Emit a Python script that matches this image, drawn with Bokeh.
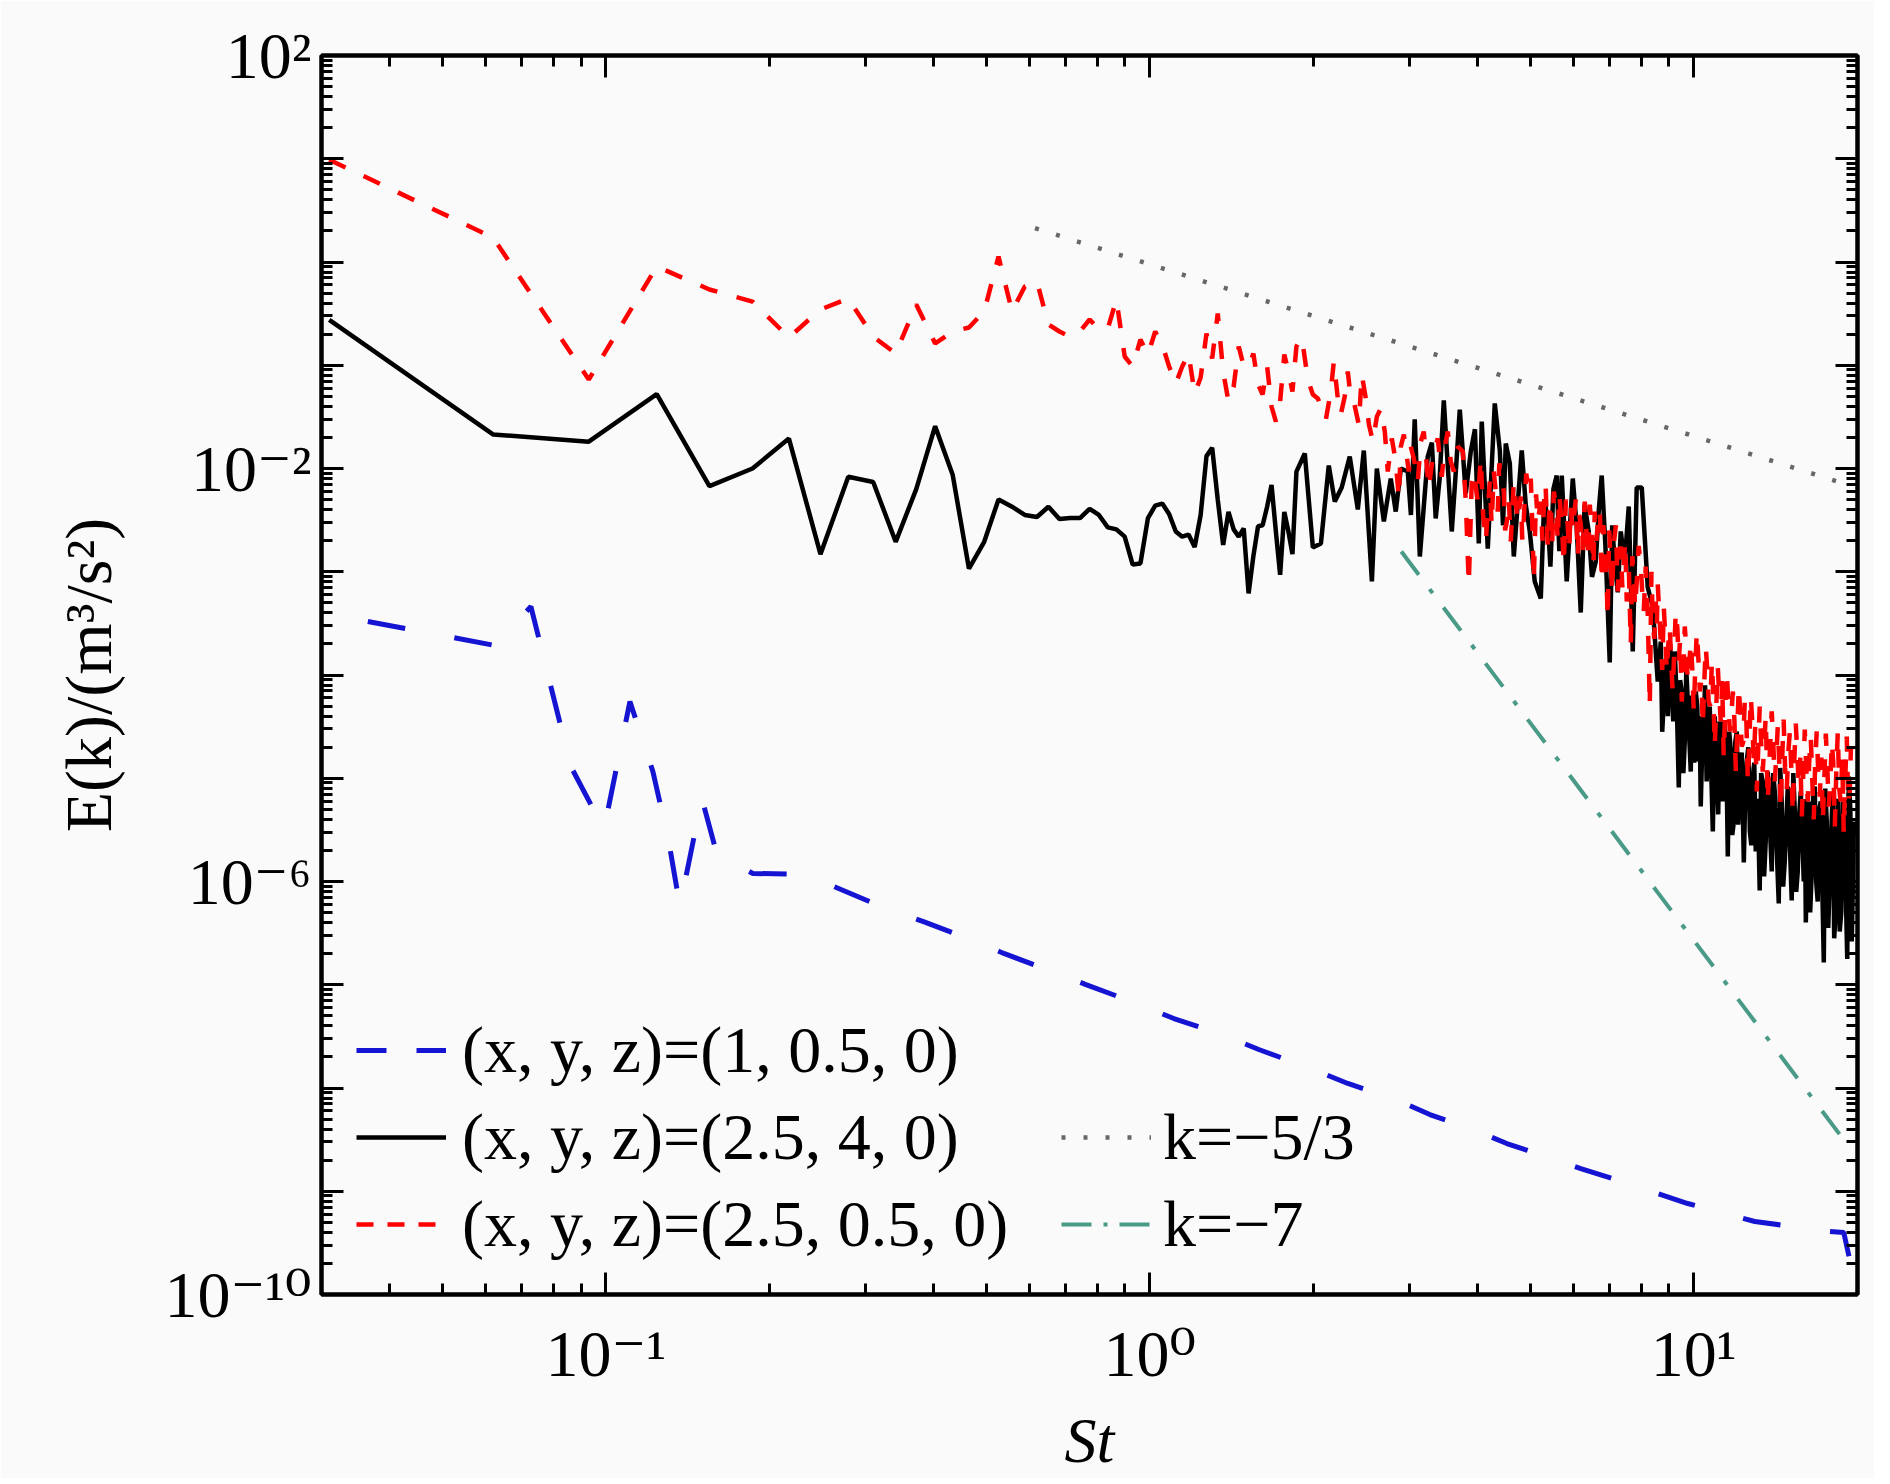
from bokeh.plotting import figure
from bokeh.models import LogAxis, FixedTicker, CustomJSTickFormatter, Legend, LegendItem
from bokeh.embed import file_html
from bokeh.resources import INLINE

# ---------------- data ----------------
# FFT bin frequencies (St) of the low-frequency part, shared by black and red
st_bins = [0.031, 0.062, 0.093, 0.124, 0.155, 0.186, 0.217, 0.248, 0.279, 0.31,
           0.341, 0.372, 0.403, 0.434, 0.465, 0.496, 0.527, 0.558, 0.589, 0.62,
           0.651, 0.682, 0.713, 0.744, 0.775, 0.806, 0.837, 0.868, 0.899, 0.93,
           0.961, 0.992, 1.023, 1.054, 1.085, 1.116, 1.147, 1.178, 1.209, 1.24,
           1.271, 1.302, 1.333, 1.364, 1.395, 1.426, 1.457, 1.488, 1.519, 1.55,
           1.581, 1.612, 1.643, 1.674, 1.705, 1.736, 1.767, 1.798, 1.829, 1.86]

# exponents: E = 10**exp
black_lo_exp = [-0.56, -1.67, -1.74, -1.28, -2.17, -2.00, -1.71, -2.83, -2.08, -2.13,
                -2.71, -2.20, -1.59, -2.06, -2.97, -2.71, -2.30, -2.37, -2.45, -2.47,
                -2.37, -2.49, -2.48, -2.48, -2.39, -2.45, -2.57, -2.59, -2.66, -2.93,
                -2.92, -2.48, -2.36, -2.34, -2.44, -2.61, -2.66, -2.64, -2.76, -2.45,
                -1.88, -1.80, -2.30, -2.74, -2.42, -2.59, -2.66, -2.58, -3.21, -2.85,
                -2.56, -2.55, -2.37, -2.16, -2.61, -3.03, -2.42, -2.61, -2.83, -2.03]

black_hi_st = [1.927, 1.994, 2.063, 2.133, 2.188, 2.253, 2.331, 2.412, 2.474, 2.560,
               2.614, 2.693, 2.773, 2.832, 2.894, 2.980, 3.069, 3.136, 3.243, 3.354,
               3.471, 3.590, 3.714, 3.809, 3.891, 4.025, 4.076, 4.181, 4.307, 4.400,
               4.512, 4.668, 4.828, 4.995, 5.101, 5.233, 5.388, 5.598, 5.719, 5.840,
               5.992, 6.198, 6.411, 6.603, 6.773, 7.007, 7.157, 7.341, 7.466, 7.594,
               7.724, 7.854, 8.024, 8.230, 8.407, 8.586,
               8.696, 8.807, 8.919, 8.995, 9.110, 9.227, 9.385, 9.505, 9.627, 9.750,
               9.874, 9.958, 10.085, 10.21, 10.30, 10.43, 10.56, 10.70, 10.84, 11.02,
               11.16, 11.31, 11.45, 11.55, 11.70, 11.85, 12.00, 12.15, 12.36, 12.51,
               12.68, 12.84, 13.00, 13.22, 13.39, 13.56, 13.68, 13.91, 14.09, 14.33,
               14.51, 14.70, 14.89, 15.14, 15.34, 15.53, 15.73, 15.93, 16.07, 16.27,
               16.48, 16.69, 16.90, 17.12, 17.34, 17.56, 17.78, 18.01, 18.24, 18.55,
               18.79, 19.03, 19.28, 19.52, 19.69]
black_hi_exp = [-1.855, -2.765, -2.726, -1.971, -2.320, -2.184, -1.884, -2.397, -1.826, -3.094,
                -2.000, -2.513, -2.097, -2.417, -2.000, -2.029, -1.525, -2.852, -1.884, -2.484,
                -1.341, -2.610, -1.429, -2.242, -1.835, -2.726, -1.545, -2.775, -1.370, -1.826,
                -1.758, -2.852, -1.826, -2.610, -3.094, -3.259, -2.484, -2.068, -2.068, -3.094,
                -2.097, -3.395, -2.610, -2.906, -2.068, -3.879, -2.906, -2.610, -2.906, -2.368,
                -3.772, -2.184, -2.184, -3.153, -3.337, -4.063,
                -3.676, -4.257, -3.821, -3.879, -4.179, -3.772, -5.090, -4.160, -4.644, -4.257,
                -4.935, -4.547, -4.160, -4.838, -5.274, -4.450, -5.031, -4.305, -5.516, -4.906,
                -4.450, -5.225, -4.644, -5.758, -4.741, -5.419, -4.547, -5.128, -5.816, -4.838,
                -5.516, -4.983, -5.709, -6.087, -5.031, -5.613, -4.935, -5.903, -5.128, -6.213,
                -5.225, -5.806, -5.080, -6.184, -5.322, -5.903, -5.128, -6.000, -6.397, -5.225,
                -5.903, -5.080, -6.194, -5.225, -6.785, -5.419, -6.000, -5.128, -6.291, -6.484,
                -5.225, -6.097, -4.983, -6.581, -5.419]
# further spikes of the black spectrum between the ones above
black_extra_st = [3.02, 3.30, 3.41, 3.65, 3.96, 4.46, 4.59, 4.91, 5.31, 5.45,
                  5.52, 5.66, 6.09, 6.30, 6.50, 6.69, 6.88, 7.08, 7.25,
                  8.75, 8.86, 8.96, 9.05, 9.17, 9.30, 9.44, 9.57, 9.69, 9.81,
                  9.92, 10.02, 10.15, 10.25, 10.36, 10.49, 10.63, 10.77, 10.93, 11.09,
                  11.23, 11.38, 11.50, 11.62, 11.77, 11.92, 12.07, 12.25, 12.43, 12.60,
                  12.76, 12.92, 13.11, 13.30, 13.47, 13.62, 13.80, 14.00, 14.21, 14.42,
                  14.60, 14.80, 15.01, 15.24, 15.43, 15.63, 15.83, 16.00, 16.17, 16.37,
                  16.58, 16.79, 17.01, 17.23, 17.45, 17.67, 17.89, 18.12, 18.40, 18.67,
                  18.91, 19.15, 19.40, 19.60]
black_extra_exp = [-2.45, -1.75, -2.10, -2.05, -1.62, -2.55, -1.95, -2.35, -2.30, -2.95,
                   -2.20, -2.80, -2.55, -2.35, -3.05, -2.40, -2.75, -2.55, -3.20,
                   -4.55, -3.95, -4.40, -3.70, -4.45, -4.20, -4.05, -4.95, -3.95, -4.60,
                   -4.20, -4.85, -4.30, -4.40, -4.75, -4.10, -4.80, -4.95, -4.40, -5.35,
                   -4.70, -4.45, -5.05, -4.55, -5.55, -4.65, -5.45, -4.75, -5.20, -4.70,
                   -5.65, -4.85, -5.20, -4.95, -5.95, -5.10, -5.45, -4.95, -5.70, -4.90,
                   -6.05, -5.40, -5.60, -4.95, -6.10, -5.35, -5.55, -5.20, -5.65, -6.30,
                   -5.15, -6.00, -5.30, -6.05, -5.10, -6.45, -5.55, -6.55, -5.20, -6.30,
                   -5.40, -6.75, -5.30, -6.10]

red_lo_exp = [0.99, 0.237, -1.138, -0.044, -0.266, -0.383, -0.731, -0.460, -0.354, -0.722,
              -0.886, -0.412, -0.789, -0.673, -0.634, -0.479, 0.053, -0.479, -0.237, -0.189,
              -0.605, -0.673, -0.722, -0.673, -0.557, -0.654, -0.644, -0.363, -0.915, -1.012,
              -0.751, -0.896, -0.673, -0.799, -1.012, -1.177, -1.012, -0.886, -1.274, -1.119,
              -0.692, -0.935, -0.499, -1.061, -1.351, -1.206, -0.818, -1.012, -1.012, -0.886,
              -1.186, -1.283, -1.012, -1.400, -1.545, -1.351, -0.896, -1.061, -1.254, -0.818]

red_hi_st = [1.903, 1.952, 1.994, 2.037, 2.072, 2.107, 2.151, 2.179, 2.216, 2.244,
             2.282, 2.312, 2.341, 2.371, 2.422, 2.453, 2.495, 2.528, 2.571, 2.615,
             2.659, 2.704, 2.738, 2.785, 2.832, 2.870, 2.894, 2.931, 2.993, 3.018,
             3.057, 3.109, 3.149, 3.189, 3.257, 3.313, 3.384, 3.441, 3.486, 3.530,
             3.575, 3.621, 3.683, 3.762, 3.810, 3.858, 3.907, 3.941, 4.008, 4.059,
             4.146, 4.217, 4.289, 4.362, 4.418, 4.475, 4.532, 4.609, 4.668, 4.747,
             4.808, 4.870, 4.974, 5.016, 5.080, 5.167, 5.233, 5.300, 5.390, 5.459,
             5.529, 5.623, 5.695, 5.768, 5.866, 5.941, 6.017, 6.120, 6.198, 6.304,
             6.384, 6.493, 6.577, 6.660, 6.773, 6.860, 6.948, 7.037, 7.127, 7.248,
             7.341, 7.435, 7.530, 7.659, 7.757, 7.856, 7.990, 8.092, 8.231, 8.301,
             8.407, 8.514, 8.586, 8.696, 8.807, 8.919, 9.034, 9.149, 9.266, 9.385,
             9.505, 9.627, 9.750, 9.874, 10.00, 10.13, 10.26, 10.39, 10.52, 10.65,
             10.80, 10.93, 11.07, 11.21, 11.35, 11.50, 11.65, 11.80, 11.95, 12.10,
             12.25, 12.41, 12.57, 12.73, 12.89, 13.06, 13.22, 13.39, 13.56, 13.68,
             13.91, 14.09, 14.27, 14.45, 14.63, 14.82, 15.02, 15.21, 15.40, 15.60,
             15.80, 16.00, 16.20, 16.41, 16.62, 16.83, 17.05, 17.27, 17.49, 17.71,
             17.94, 18.17, 18.40, 18.63, 18.87, 19.11, 19.36]
red_hi_exp = [-0.731, -1.138, -1.283, -1.322, -1.429, -1.525, -1.254, -0.964, -1.322, -1.477,
              -1.303, -1.061, -1.322, -1.351, -1.574, -1.090, -1.322, -1.574, -1.738, -1.496,
              -1.419, -1.642, -2.029, -1.709, -1.932, -2.290, -1.787, -1.671, -2.029, -1.787,
              -1.903, -2.126, -1.738, -1.642, -2.194, -1.884, -1.709, -2.080, -1.787, -1.642,
              -1.932, -2.029, -1.787, -1.835, -2.320, -3.123, -2.126, -2.029, -2.320, -1.903,
              -2.707, -2.126, -2.029, -2.417, -2.080, -2.223, -2.513, -2.707, -2.126, -2.513,
              -2.271, -2.484, -2.223, -2.097, -3.094, -2.513, -2.320, -2.387, -2.755, -2.320,
              -2.223, -2.707, -2.417, -2.930, -2.562, -2.368, -2.484, -2.852, -2.542, -2.320,
              -2.872, -2.610, -2.417, -2.542, -3.094, -2.707, -3.453, -2.906, -2.736, -3.191,
              -2.755, -2.930, -3.288, -3.705, -3.046, -3.094, -2.930, -3.385, -3.414, -4.305,
              -3.482, -3.288, -3.123, -3.676, -3.337, -3.966, -3.530, -4.160, -3.385, -3.869,
              -4.257, -3.530, -4.063, -3.676, -4.353, -3.579, -4.160, -4.499, -3.724, -4.257,
              -3.869, -4.693, -3.918, -4.450, -4.790, -3.966, -4.547, -4.160, -4.935, -4.111,
              -4.693, -4.257, -5.031, -4.208, -4.838, -5.128, -4.305, -4.935, -4.402, -5.225,
              -4.353, -5.031, -4.499, -5.302, -4.431, -5.128, -4.547, -5.341, -4.470, -5.080,
              -5.370, -4.528, -5.225, -4.596, -5.399, -4.547, -5.177, -5.419, -4.567, -5.274,
              -4.644, -5.467, -4.547, -5.225, -5.535, -4.596, -5.128]
# further values of the red spectrum between the ones above
red_extra_st = [4.10, 4.25, 4.39, 4.50, 4.57, 4.71, 4.84, 4.92, 5.05, 5.13,
                5.27, 5.34, 5.42, 5.49, 5.58, 5.66, 5.73, 5.82, 5.90, 5.98,
                6.07, 6.16, 6.25, 6.34, 6.44, 6.54, 6.62, 6.72, 6.82, 6.90,
                6.99, 7.08, 7.19, 7.29, 7.39, 7.48, 7.60, 7.71, 7.80, 7.92,
                8.04, 8.16, 8.36, 8.46, 8.55,
                8.75, 8.86, 8.98, 9.09, 9.21, 9.33, 9.44, 9.57, 9.69, 9.81,
                9.94, 10.07, 10.20, 10.33, 10.45, 10.59, 10.72, 10.87, 11.00, 11.14,
                11.28, 11.42, 11.57, 11.72, 11.88, 12.02, 12.17, 12.33, 12.49, 12.65,
                12.81, 12.97, 13.14, 13.30, 13.47, 13.62, 13.80, 14.00, 14.18, 14.36,
                14.54, 14.72, 14.92, 15.11, 15.30, 15.50, 15.70, 15.90, 16.10, 16.30,
                16.51, 16.72, 16.94, 17.16, 17.38, 17.60, 17.82, 18.05, 18.28, 18.51,
                18.75, 18.99, 19.23, 19.45]
red_extra_exp = [-2.45, -2.55, -1.95, -2.60, -2.30, -2.35, -2.70, -2.05, -2.55, -2.25,
                 -2.70, -2.15, -2.45, -2.75, -2.35, -2.25, -2.60, -2.30, -2.80, -2.60,
                 -2.30, -2.45, -2.80, -2.55, -2.35, -2.95, -2.70, -2.40, -2.55, -2.95,
                 -2.60, -3.20, -2.55, -2.90, -3.15, -2.70, -3.00, -2.85, -3.35, -2.75,
                 -3.20, -2.95, -3.00, -3.65, -3.55,
                 -3.95, -3.60, -3.70, -3.90, -3.75, -3.55, -3.65, -3.95, -3.75, -3.90,
                 -3.95, -3.90, -3.85, -4.05, -4.10, -3.95, -4.30, -4.25, -4.30, -4.20,
                 -4.05, -4.35, -4.25, -4.40, -4.45, -4.55, -4.35, -4.65, -4.40, -4.65,
                 -4.45, -4.50, -4.70, -4.65, -4.70, -4.80, -4.75, -4.65, -4.80, -4.85,
                 -4.80, -4.90, -4.75, -4.90, -4.85, -4.75, -4.80, -4.95, -4.90, -4.85,
                 -5.00, -4.85, -4.95, -4.80, -5.00, -4.90, -5.05, -4.85, -4.95, -5.10,
                 -4.80, -5.00, -5.25, -4.70]

blue_st = [0.0365, 0.0625, 0.0728, 0.0862, 0.0992, 0.1107, 0.1220, 0.1305, 0.1368, 0.1501,
           0.1613, 0.1734, 0.1863, 0.2283, 0.2625, 0.327, 0.3825, 0.469, 0.539, 0.661,
           0.763, 0.946, 1.107, 1.356, 1.586, 1.977, 2.312, 2.834, 3.272, 4.008,
           4.532, 5.483, 6.198, 7.372, 8.477, 9.750, 11.40, 12.95, 15.14, 16.90,
           18.87, 19.44]
blue_exp = [-3.482, -3.714, -3.337, -4.886, -5.496, -4.257, -4.935, -5.613, -6.242, -5.196,
            -5.806, -5.835, -5.922, -5.930, -6.048, -6.261, -6.387, -6.562, -6.697, -6.872,
            -6.998, -7.182, -7.327, -7.482, -7.627, -7.811, -7.956, -8.111, -8.257, -8.421,
            -8.538, -8.683, -8.780, -8.906, -9.012, -9.119, -9.216, -9.293, -9.341, -9.380,
            -9.400, -9.710]

# reference slopes k = -5/3 and k = -7 (end points)
k53_st = [0.615, 18.95]
k53_E = [2.13, 7.1e-3]
k7_st = [2.9, 19.0]
k7_E = [1.57e-3, 3.0e-9]

labels = ["(x, y, z)=(1, 0.5, 0)", "(x, y, z)=(2.5, 4, 0)", "(x, y, z)=(2.5, 0.5, 0)",
          "k=\u22125/3", "k=\u22127"]

x_major = [0.1, 1, 10]
x_minor = [0.03, 0.04, 0.05, 0.06, 0.07, 0.08, 0.09,
           0.2, 0.3, 0.4, 0.5, 0.6, 0.7, 0.8, 0.9,
           2, 3, 4, 5, 6, 7, 8, 9, 20]
y_major = [10.0 ** k for k in range(-10, 3)]
y_minor = [m * 10.0 ** k for k in range(-10, 2) for m in range(2, 10)]

# ---------------- build series (points ordered by St) ----------------
blk = sorted(zip(st_bins + black_hi_st + black_extra_st,
                 black_lo_exp + black_hi_exp + black_extra_exp))
black_st = [a for a, _ in blk]
black_E = [10 ** b for _, b in blk]
rd = sorted(zip(st_bins + red_hi_st + red_extra_st,
                red_lo_exp + red_hi_exp + red_extra_exp))
red_st = [a for a, _ in rd]
red_E = [10 ** b for _, b in rd]
blue_E = [10 ** v for v in blue_exp]

SERIF = "Liberation Serif, DejaVu Serif"
BG = "#fafafa"
BLUE = "#1414d2"
RED = "#ff0000"
TEAL = "#4a9a88"
GRAY = "#676767"

p = figure(x_axis_type="log", y_axis_type="log",
           x_range=(0.03, 20), y_range=(1e-10, 1e2),
           frame_width=1536, frame_height=1239,
           min_border_left=321, min_border_right=17,
           min_border_top=55, min_border_bottom=174,
           output_backend="svg", toolbar_location=None)
p.background_fill_color = BG
p.border_fill_color = BG
p.outline_line_color = "black"
p.outline_line_width = 4
p.grid.visible = False

sup_code = """
const sup = {"-": "\u207b", "0": "\u2070", "1": "\u00b9", "2": "\u00b2", "3": "\u00b3",
             "4": "\u2074", "5": "\u2075", "6": "\u2076", "7": "\u2077", "8": "\u2078", "9": "\u2079"};
const e = Math.round(Math.log10(tick));
SKIP
let s = "";
for (const c of String(e)) { s += sup[c]; }
return "10" + s;
"""
x_fmt = CustomJSTickFormatter(code=sup_code.replace("SKIP", ""))
y_fmt = CustomJSTickFormatter(code=sup_code.replace("SKIP", 'if ((e - 2) % 4 !== 0) { return ""; }'))
blank_fmt = CustomJSTickFormatter(code='return "";')


def style(ax, show_labels):
    ax.axis_line_color = "black"
    ax.axis_line_width = 4
    ax.major_tick_in = 22
    ax.major_tick_out = 0
    ax.minor_tick_in = 11
    ax.minor_tick_out = 0
    ax.major_tick_line_width = 3
    ax.minor_tick_line_width = 3
    ax.major_tick_line_color = "black"
    ax.minor_tick_line_color = "black"
    if show_labels:
        ax.major_label_text_font = SERIF
        ax.major_label_text_font_size = "66px"
        ax.major_label_text_color = "black"
    else:
        ax.formatter = blank_fmt
        ax.major_label_text_font_size = "4px"
        ax.major_label_text_alpha = 0
        ax.major_label_standoff = 0


xb = p.xaxis[0]
xb.ticker = FixedTicker(ticks=x_major, minor_ticks=x_minor)
xb.formatter = x_fmt
style(xb, True)
xb.major_label_standoff = 22
xb.axis_label = "St"
xb.axis_label_text_font = SERIF
xb.axis_label_text_font_size = "64px"
xb.axis_label_text_font_style = "italic"
xb.axis_label_text_color = "black"
xb.axis_label_standoff = 12

yl = p.yaxis[0]
yl.ticker = FixedTicker(ticks=y_major, minor_ticks=y_minor)
yl.formatter = y_fmt
style(yl, True)
yl.major_label_standoff = 10
yl.axis_label = "E(k)/(m\u00b3/s\u00b2)"
yl.axis_label_text_font = SERIF
yl.axis_label_text_font_size = "66px"
yl.axis_label_text_font_style = "normal"
yl.axis_label_text_color = "black"
yl.axis_label_standoff = 36

xt = LogAxis(ticker=FixedTicker(ticks=x_major, minor_ticks=x_minor))
style(xt, False)
p.add_layout(xt, "above")
yr = LogAxis(ticker=FixedTicker(ticks=y_major, minor_ticks=y_minor))
style(yr, False)
p.add_layout(yr, "right")

# ---------------- glyphs ----------------
r_blue = p.line(blue_st, blue_E, line_color=BLUE, line_width=5, line_dash="38 50")
r_black = p.line(black_st, black_E, line_color="black", line_width=4.5)
r_red = p.line(red_st, red_E, line_color=RED, line_width=4.5, line_dash="18 20")
r_k53 = p.line(k53_st, k53_E, line_color=GRAY, line_width=4.5, line_dash="4 18")
r_k7 = p.line(k7_st, k7_E, line_color=TEAL, line_width=4, line_dash="29 18 5 18")

# legend samples: same colours with the dash lengths the legend shows
# (a single vertex each, so nothing is drawn inside the plot)
lg_blue = p.line([1.0], [1.0], line_color=BLUE, line_width=5, line_dash="30 30")
lg_red = p.line([1.0], [1.0], line_color=RED, line_width=4.5, line_dash="17 14")
lg_k7 = p.line([1.0], [1.0], line_color=TEAL, line_width=4, line_dash="30 12 4 12")

common = dict(label_text_font=SERIF, label_text_font_size="66px", label_text_color="black",
              glyph_width=90, glyph_height=72, label_height=72, spacing=11,
              padding=0, margin=0, border_line_color=None, background_fill_alpha=0)

leg1 = Legend(items=[LegendItem(label=labels[0], renderers=[lg_blue]),
                     LegendItem(label=labels[1], renderers=[r_black]),
                     LegendItem(label=labels[2], renderers=[lg_red])],
              location=(35, 32), label_standoff=16, **common)
leg2 = Legend(items=[LegendItem(label=labels[3], renderers=[r_k53]),
                     LegendItem(label=labels[4], renderers=[lg_k7])],
              location=(740, 32), label_standoff=12, **common)
p.add_layout(leg1)
p.add_layout(leg2)

open("out.html", "w").write(file_html(p, INLINE))
